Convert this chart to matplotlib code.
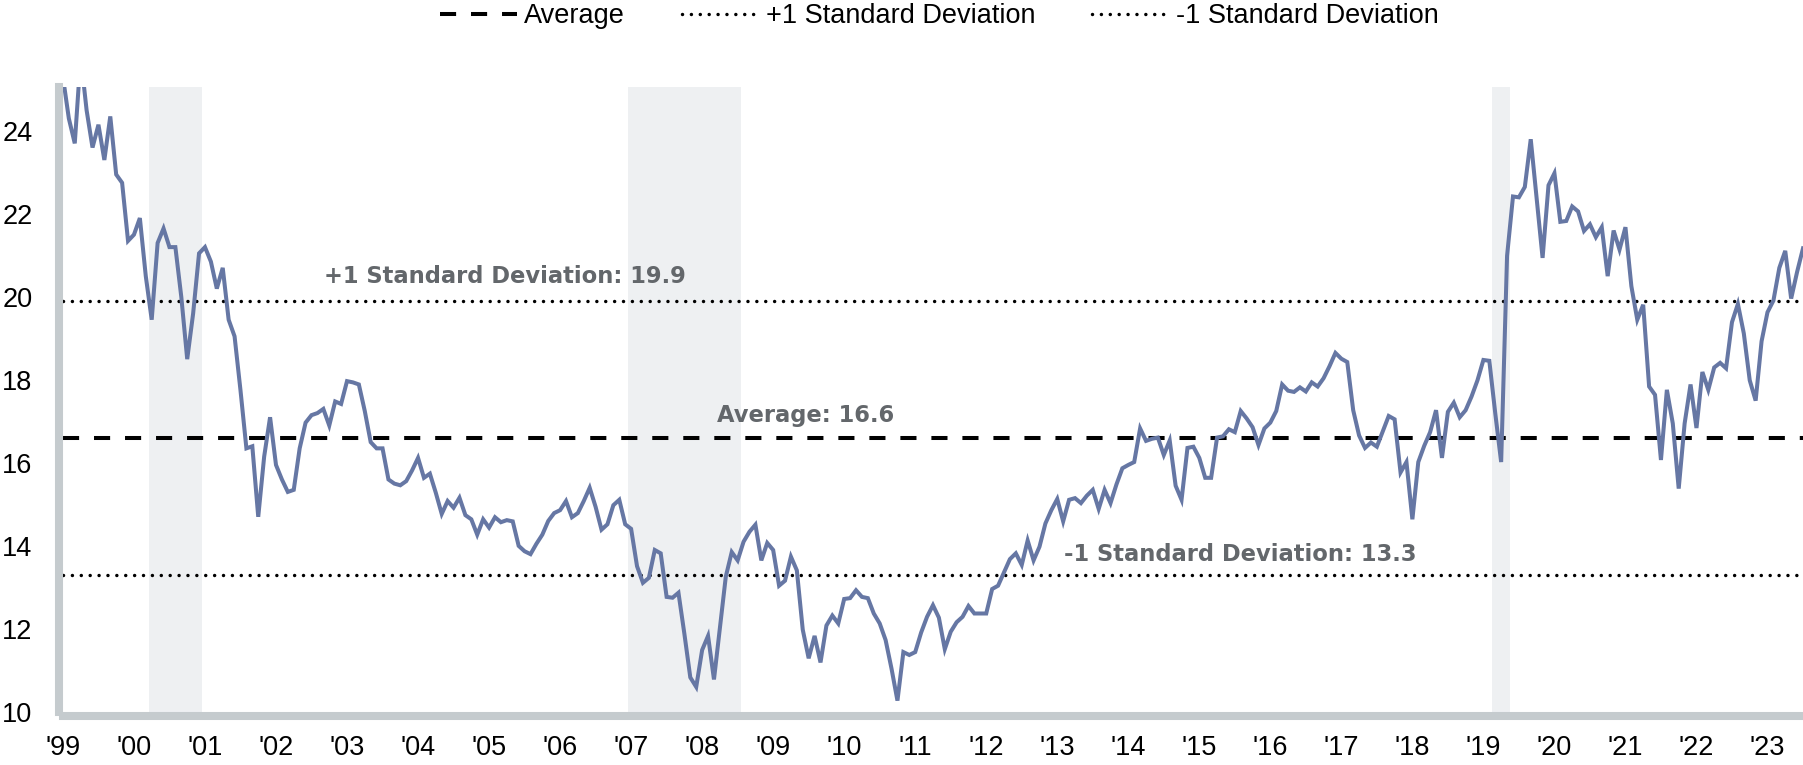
import numpy as np
import pandas as pd
import matplotlib
matplotlib.use("Agg")
import matplotlib.pyplot as plt
from matplotlib.lines import Line2D

# ----- Data: monthly forward P/E, Dec 1999 onwards -----
first_month = "1999-12"
pe_ratio = [
    25.3, 24.3, 23.7, 25.8, 24.5, 23.6, 24.15, 23.3, 24.35, 22.95,
    22.75, 21.35, 21.5, 21.9, 20.5, 19.45, 21.3, 21.65, 21.2, 21.2,
    20.0, 18.5, 19.6, 21.05, 21.2, 20.85, 20.2, 20.7, 19.45, 19.05,
    17.75, 16.35, 16.4, 14.7, 16.15, 17.1, 15.95, 15.6, 15.3, 15.35,
    16.35, 16.97, 17.15, 17.2, 17.3, 16.9, 17.48, 17.42, 17.97, 17.94,
    17.89, 17.25, 16.5, 16.35, 16.35, 15.6, 15.5, 15.46, 15.56, 15.82,
    16.12, 15.64, 15.74, 15.28, 14.77, 15.08, 14.92, 15.16, 14.74, 14.64,
    14.27, 14.64, 14.44, 14.69, 14.57, 14.62, 14.59, 14.0, 13.87, 13.8,
    14.05, 14.27, 14.6, 14.79, 14.86, 15.08, 14.69, 14.79, 15.08, 15.4,
    14.94, 14.39, 14.52, 14.98, 15.11, 14.52, 14.41, 13.51, 13.11, 13.23,
    13.9, 13.82, 12.77, 12.75, 12.87, 11.88, 10.83, 10.6, 11.49, 11.83,
    10.78, 12.03, 13.26, 13.85, 13.65, 14.1, 14.34, 14.51, 13.65, 14.07,
    13.9, 13.04, 13.16, 13.74, 13.41, 11.98, 11.29, 11.83, 11.19, 12.08,
    12.32, 12.13, 12.72, 12.74, 12.93, 12.77, 12.74, 12.37, 12.13, 11.73,
    11.04, 10.27, 11.44, 11.37, 11.44, 11.91, 12.29, 12.57, 12.27, 11.51,
    11.93, 12.16, 12.29, 12.55, 12.37, 12.37, 12.37, 12.96, 13.04, 13.36,
    13.68, 13.82, 13.54, 14.13, 13.65, 13.98, 14.54, 14.86, 15.13, 14.59,
    15.11, 15.15, 15.03, 15.21, 15.35, 14.89, 15.35, 15.03, 15.48, 15.87,
    15.95, 16.02, 16.83, 16.53, 16.58, 16.61, 16.19, 16.54, 15.45, 15.11,
    16.36, 16.39, 16.12, 15.64, 15.64, 16.61, 16.64, 16.81, 16.74, 17.25,
    17.07, 16.86, 16.43, 16.83, 16.97, 17.25, 17.89, 17.74, 17.71, 17.82,
    17.72, 17.94, 17.84, 18.04, 18.33, 18.65, 18.51, 18.43, 17.27, 16.66,
    16.36, 16.49, 16.39, 16.76, 17.13, 17.05, 15.77, 16.02, 14.64, 16.02,
    16.41, 16.74, 17.27, 16.12, 17.23, 17.45, 17.1, 17.27, 17.6, 17.99,
    18.48, 18.46, 17.2, 16.02, 20.99, 22.42, 22.4, 22.65, 23.8, 22.37,
    20.94, 22.69, 22.98, 21.81, 21.83, 22.18, 22.06, 21.59, 21.75, 21.44,
    21.68, 20.5, 21.6, 21.14, 21.68, 20.26, 19.45, 19.81, 17.84, 17.64,
    16.07, 17.76, 16.95, 15.38, 16.95, 17.89, 16.84, 18.19, 17.76, 18.3,
    18.41, 18.28, 19.39, 19.83, 19.12, 17.99, 17.5, 18.93, 19.63, 19.91,
    20.7, 21.11, 19.96, 20.6, 21.17,
]

average = 16.6
plus_one_sd = 19.9
minus_one_sd = 13.3

recessions = [("2001-03", "2001-11"), ("2007-12", "2009-06"), ("2020-02", "2020-04")]
tick_years = list(range(1999, 2024))

months = pd.period_range(first_month, periods=len(pe_ratio), freq="M")
start = pd.Period(first_month, freq="M")
x = np.arange(len(months))


def month_pos(s):
    return (pd.Period(s, freq="M") - start).n


LINE_COLOR = "#6677a4"
SHADE = "#eef0f2"
AXIS_GRAY = "#c5cbce"
LABEL_GRAY = "#63676b"

plt.rcParams["font.family"] = ["Liberation Sans", "DejaVu Sans"]

fig = plt.figure(figsize=(18.03, 7.65), dpi=100)
ax = fig.add_axes([0.0349, 0.0695, 0.9651, 0.8163])

for r0, r1 in recessions:
    ax.axvspan(month_pos(r0) - 0.5, month_pos(r1) + 0.5, color=SHADE, lw=0, zorder=0)

# average and +/- 1 SD reference lines
dash_avg = dict(color="black", lw=2.9, dashes=(4, 3.7))
dot_sd = dict(color="black", lw=2.5, dashes=(0.01, 2.55), dash_capstyle="round")
ax.axhline(average, zorder=2, **dash_avg)
ax.axhline(plus_one_sd, zorder=2, **dot_sd)
ax.axhline(minus_one_sd, zorder=2, **dot_sd)

ax.plot(x, pe_ratio, color=LINE_COLOR, lw=2.9, zorder=3, solid_joinstyle="miter")

lbl = dict(family="DejaVu Sans", fontsize=16.3, fontweight="bold",
           color=LABEL_GRAY, ha="center", va="center", zorder=4)
ax.text(74.7, 20.5, f"+1 Standard Deviation: {plus_one_sd}", **lbl)
ax.text(125.5, 17.15, f"Average: {average}", **lbl)
ax.text(199.0, 13.8, f"-1 Standard Deviation: {minus_one_sd}", **lbl)

ax.set_xlim(0, len(pe_ratio) - 1)
ax.set_ylim(10, 25.05)
ax.set_yticks(range(10, 25, 2))
ax.set_xticks([month_pos(f"{yr}-12") for yr in tick_years])
ax.set_xticklabels([f"'{yr % 100:02d}" for yr in tick_years])
ax.tick_params(axis="both", length=0, labelsize=19.5)
ax.tick_params(axis="y", pad=19)
ax.tick_params(axis="x", pad=14)

for side in ["top", "right"]:
    ax.spines[side].set_visible(False)
for side in ["left", "bottom"]:
    ax.spines[side].set_color(AXIS_GRAY)
    ax.spines[side].set_linewidth(5.8)
    ax.spines[side].set_position(("outward", 2.9))
ax.spines["left"].set_capstyle("projecting")

handles = [Line2D([], [], **dash_avg), Line2D([], [], **dot_sd), Line2D([], [], **dot_sd)]
fig.legend(handles, ["Average", "+1 Standard Deviation", "-1 Standard Deviation"],
           loc="center", bbox_to_anchor=(0.521, 0.979), ncol=3, frameon=False,
           fontsize=19.5, handlelength=2.85, handletextpad=0.25, columnspacing=2.1)

fig.savefig("out.png", dpi=100)
